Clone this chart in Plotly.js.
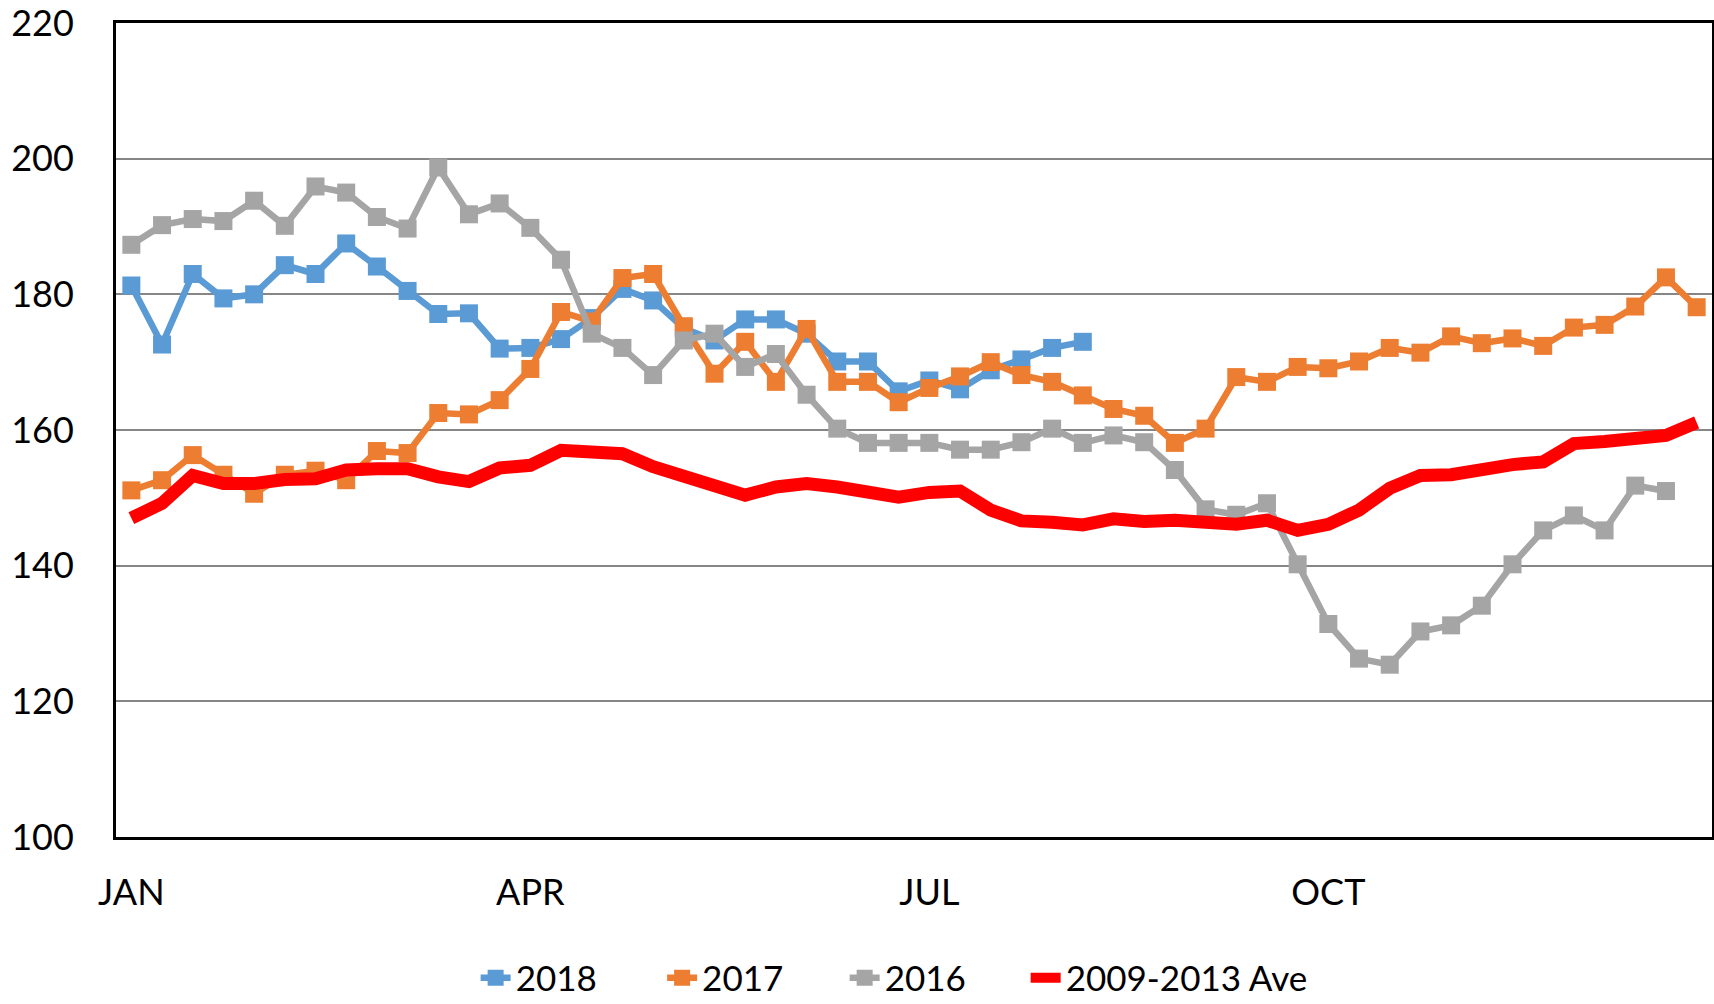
<!DOCTYPE html>
<html>
<head>
<meta charset="utf-8">
<script src="https://cdn.plot.ly/plotly-3.0.1.min.js"></script>
<style>html,body{margin:0;padding:0;background:#fff;}#chart{width:1714px;height:1004px;}</style>
</head>
<body>
<div id="chart"></div>
<script>
// Weeks of the year (category positions)
const weeks = Array.from({length: 52}, (_, i) => i + 1);
const tickWeeks = [1, 14, 27, 40];
const tickLabels = ["JAN", "APR", "JUL", "OCT"];

const seriesNames = ["2018", "2017", "2016", "2009-2013 Ave"];

const y2018 = [181.3, 172.6, 183, 179.4, 180, 184.3, 183, 187.5, 184.1, 180.5,
  177.1, 177.2, 172, 172.1, 173.4, 176.5, 180.8, 179.1, 175, 173.2,
  176.3, 176.3, 174.2, 170.1, 170.1, 165.7, 167.3, 166, 168.8, 170.4,
  172.1, 173];

const y2017 = [151.1, 152.6, 156.3, 153.4, 150.6, 153.4, 154, 152.6, 156.9, 156.6,
  162.5, 162.3, 164.4, 169, 177.4, 176, 182.4, 183, 175.3, 168.3,
  173, 167.1, 174.9, 167.1, 167.1, 164.1, 166.2, 167.9, 170, 168.1,
  167.1, 165.1, 163.1, 162.1, 158.1, 160.2, 167.8, 167.1, 169.3, 169.1,
  170.1, 172.1, 171.4, 173.8, 172.8, 173.5, 172.4, 175.1, 175.5, 178.2,
  182.5, 178.1];

const y2016 = [187.3, 190.2, 191.1, 190.8, 193.8, 190.1, 195.9, 195, 191.4, 189.7,
  198.7, 191.8, 193.4, 189.8, 185.1, 174.2, 172.1, 168.1, 173.2, 174.2,
  169.3, 171.2, 165.2, 160.2, 158.1, 158.1, 158.1, 157.1, 157.1, 158.2,
  160.2, 158.1, 159.2, 158.2, 154.1, 148.3, 147.5, 149.2, 140.2, 131.4,
  126.3, 125.4, 130.3, 131.2, 134.1, 140.2, 145.2, 147.4, 145.2, 151.8,
  151];

const yAve = [147, 149.2, 153.3, 152.1, 152.1, 152.7, 152.8, 154.1, 154.3, 154.3,
  153.1, 152.4, 154.4, 154.8, 157, 156.8, 156.5, 154.6, 153.1, 151.4,
  150.4, 151.6, 152.1, 151.6, 150.8, 150.1, 150.8, 151, 148.2, 146.6,
  146.4, 146, 146.9, 146.5, 146.7, 146.4, 146.1, 146.7, 145.2, 146.1,
  148.2, 151.4, 153.3, 153.4, 154.2, 154.9, 155.3, 158, 158.3, 158.6,
  159.2, 161.1];

const colors = ["#5B9BD5", "#ED7D31", "#A5A5A5", "#FF0000"];
const FONT = "Lato, 'Open Sans', sans-serif";

function markerTrace(name, y, color, legendId) {
  return {
    type: "scatter", mode: "lines+markers", name: name, legend: legendId,
    x: weeks.slice(0, y.length), y: y,
    line: {color: color, width: 6.5},
    marker: {symbol: "square", size: 18, color: color}
  };
}

const data = [
  markerTrace(seriesNames[0], y2018, colors[0], "legend"),
  markerTrace(seriesNames[1], y2017, colors[1], "legend2"),
  markerTrace(seriesNames[2], y2016, colors[2], "legend3"),
  {type: "scatter", mode: "lines", name: seriesNames[3], x: weeks, y: yAve, legend: "legend4",
   line: {color: colors[3], width: 13}}
];

function legendAt(x) {
  return {orientation: "v", xref: "container", yref: "container", x: x, xanchor: "left",
          y: 0.026, yanchor: "middle", bgcolor: "rgba(0,0,0,0)",
          font: {family: FONT, size: 35, color: "#000"}};
}

const layout = {
  width: 1714, height: 1004,
  margin: {l: 116, r: 2, t: 23, b: 167, autoexpand: false},
  paper_bgcolor: "#ffffff", plot_bgcolor: "#ffffff",
  font: {family: FONT, size: 36, color: "#000000"},
  showlegend: true,
  legend: legendAt(0.2775),
  legend2: legendAt(0.3863),
  legend3: legendAt(0.4928),
  legend4: legendAt(0.5984),
  xaxis: {
    range: [0.5, 52.5], tickmode: "array", tickvals: tickWeeks, ticktext: tickLabels,
    showgrid: false, zeroline: false,
    showline: true, linecolor: "#000", linewidth: 3, mirror: true,
    ticks: "outside", ticklen: 22, tickcolor: "rgba(0,0,0,0)",
    ticklabeloverflow: "allow",
    tickfont: {family: FONT, size: 36, color: "#000"}
  },
  yaxis: {
    range: [100, 220], dtick: 20, tick0: 100,
    showgrid: true, gridcolor: "#868686", gridwidth: 2, zeroline: false,
    showline: true, linecolor: "#000", linewidth: 3, mirror: true,
    ticks: "outside", ticklen: 32, tickcolor: "rgba(0,0,0,0)",
    ticklabeloverflow: "allow",
    tickfont: {family: FONT, size: 36, color: "#000"}
  }
};

Plotly.newPlot("chart", data, layout, {displayModeBar: false, staticPlot: true});
</script>
</body>
</html>
